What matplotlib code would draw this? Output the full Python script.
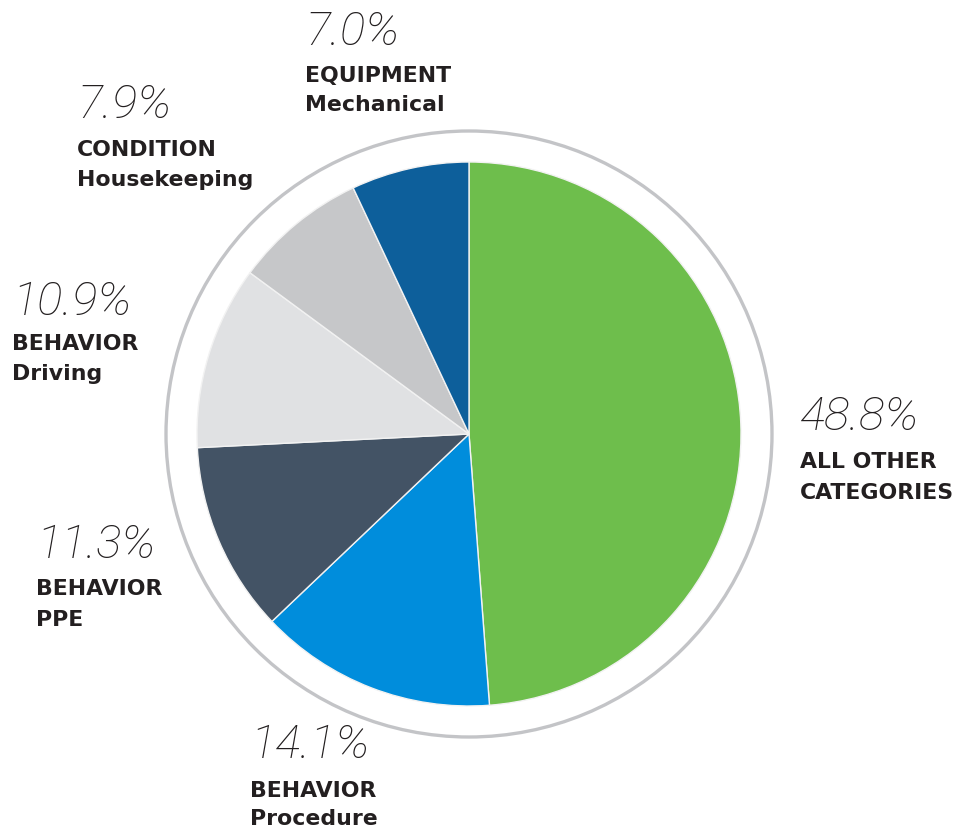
import matplotlib.pyplot as plt
from matplotlib.patches import Circle

# data
values = [48.8, 14.1, 11.3, 10.9, 7.9, 7.0]
pct_labels = ["48.8%", "14.1%", "11.3%", "10.9%", "7.9%", "7.0%"]
groups = ["ALL OTHER", "BEHAVIOR", "BEHAVIOR", "BEHAVIOR", "CONDITION", "EQUIPMENT"]
subgroups = ["CATEGORIES", "Procedure", "PPE", "Driving", "Housekeeping", "Mechanical"]
colors = ["#6ebe4c", "#008ddc", "#435365", "#e0e1e3", "#c6c7c9", "#0d5f9b"]

# label layout in pixel coords (x left, baselines of pct / line1 / line2)
label_x = [800, 250, 36, 12, 77, 305]
pct_base = [430, 758, 558, 315, 118, 45]
line1_base = [468, 797, 595, 350, 156, 82]
line2_base = [499, 825, 626, 380, 186, 111]

W, H = 966, 830
fig = plt.figure(figsize=(W / 100, H / 100), dpi=100)
ax = fig.add_axes([0, 0, 1, 1])

cx, cy = 469, H - 434
ax.pie(values, colors=colors, startangle=90, counterclock=False,
       center=(cx, cy), radius=272, frame=True,
       wedgeprops=dict(edgecolor="#f2f2f2", linewidth=1))
ax.set_xlim(0, W)
ax.set_ylim(0, H)
ax.set_aspect("equal")
ax.axis("off")
ax.add_patch(Circle((cx, cy), 303, fill=False, edgecolor="#c3c4c7", lw=2.4))

for i in range(len(values)):
    ax.text(label_x[i], H - pct_base[i], pct_labels[i], family="Roboto",
            fontweight="light", fontstyle="italic", fontsize=34,
            color="#231f20", va="baseline", ha="left")
    ax.text(label_x[i], H - line1_base[i], groups[i], family="DejaVu Sans",
            fontweight="bold", fontsize=15.8, color="#231f20",
            va="baseline", ha="left")
    ax.text(label_x[i], H - line2_base[i], subgroups[i], family="DejaVu Sans",
            fontweight="bold", fontsize=15.8, color="#231f20",
            va="baseline", ha="left")

fig.savefig("out.png", dpi=100)
